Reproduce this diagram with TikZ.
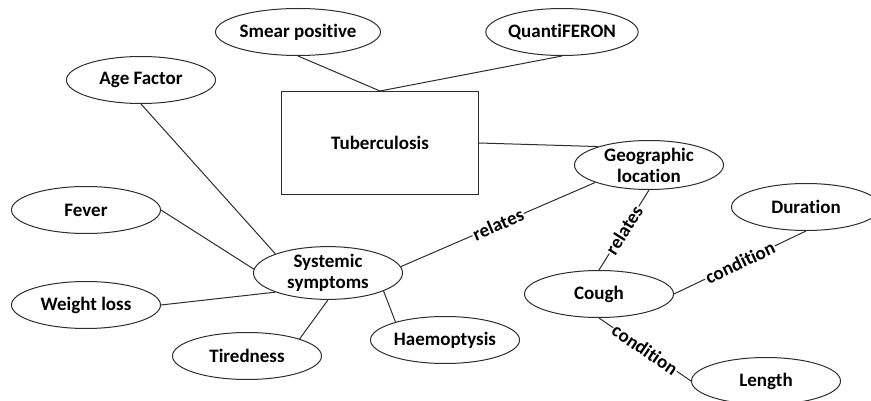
\documentclass[tikz,border=0pt]{standalone}
\usepackage{fontspec}
\setmainfont{Carlito}[Ligatures=NoCommon]
\usetikzlibrary{shapes.geometric}
\definecolor{edgegray}{RGB}{45,45,45}

\begin{document}
\begin{tikzpicture}[x=1pt, y=-1pt, line width=1pt,
    every node/.style={font=\bfseries\fontsize{19}{21}\selectfont},
    attr/.style={draw=edgegray, ellipse, minimum width=149pt, minimum height=47pt, inner sep=0pt, align=center},
    entity/.style={draw=edgegray, rectangle, minimum width=197pt, minimum height=103pt},
    link/.style={draw=edgegray},
    tag/.style={midway, sloped, fill=white, inner sep=1pt}]
  \useasboundingbox (0,0) rectangle (871,401);
  % central entity and attributes
  \node[entity] (tb) at (380,143) {Tuberculosis};
  \node[attr] (smear) at (298,32) {Smear positive};
  \node[attr] (quanti) at (562,32) {QuantiFERON};
  \node[attr] (age) at (141,80) {Age Factor};
  \node[attr, minimum height=49pt] (geo) at (649,165) {Geographic\\location};
  % symptoms
  \node[attr] (sys) at (328,273) {Systemic\\symptoms};
  \node[attr] (fever) at (86,210) {Fever};
  \node[attr] (wloss) at (86,305) {Weight loss};
  \node[attr] (tired) at (247,356) {Tiredness};
  \node[attr] (haemo) at (445,340) {Haemoptysis};
  \node[attr] (cough) at (599,294) {Cough};
  \node[attr] (dur) at (806,207) {Duration};
  \node[attr] (len) at (766,381) {Length};

  \draw[link] (smear.south) -- (tb.north);
  \draw[link] (quanti.south) -- (tb.north);
  \draw[link] (tb.east) -- (geo.160);
  \draw[link] (age.south) -- (sys.160);
  \draw[link] (fever.east) -- (sys.177);
  \draw[link] (wloss.east) -- (sys.200);
  \draw[link] (tired.18) -- (sys.south);
  \draw[link] (haemo.160) -- (sys.-18);
  \draw[link] (sys.5) -- (geo.198) node[tag] {relates};
  \draw[link] (geo.south) -- (cough.north) node[tag] {relates};
  \draw[link] (cough.east) -- (dur.south) node[tag] {condition};
  \draw[link] (cough.south) -- (len.west) node[tag] {condition};
\end{tikzpicture}
\end{document}
